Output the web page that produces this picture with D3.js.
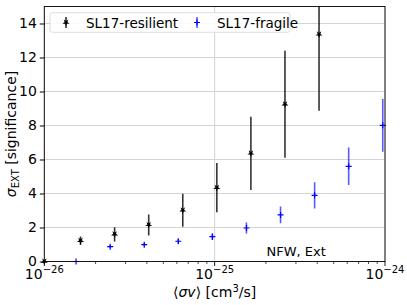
<!DOCTYPE html>
<html><head><meta charset="utf-8">
<script src="https://cdn.jsdelivr.net/npm/d3@7"></script>
<style>body{margin:0;background:#fff}svg{display:block}text{font-family:"DejaVu Sans",sans-serif}</style>
</head><body><svg id="c" width="407" height="305"></svg>
<script>
// data
const resX = [1.0e-26, 1.632e-26, 2.587e-26, 4.101e-26, 6.499e-26, 1.030e-25, 1.632e-25, 2.587e-25, 4.10e-25];
const resY = [0, 1.22, 1.6, 2.15, 3.01, 4.34, 6.36, 9.25, 13.36];
const resErr = [0.05, 0.25, 0.42, 0.62, 0.97, 1.45, 2.15, 3.14, 4.49];
const fraX = [1.537e-26, 2.437e-26, 3.862e-26, 6.120e-26, 9.70e-26, 1.537e-25, 2.437e-25, 3.862e-25, 6.120e-25, 9.70e-25];
const fraY = [0, 0.87, 0.99, 1.19, 1.46, 1.97, 2.74, 3.89, 5.6, 8.01];
const fraErr = [0.03, 0.08, 0.1, 0.13, 0.2, 0.33, 0.49, 0.77, 1.1, 1.55];
const yTicks = [0, 2, 4, 6, 8, 10, 12, 14];
const xTicks = [1e-26, 1e-25, 1e-24];
const xTickExp = ["\u221226", "\u221225", "\u221224"];
const seriesNames = ["SL17-resilient", "SL17-fragile"];

const svg = d3.select("#c");
const L = 44.3, R = 385, T = 6.5, B = 261.5;
const x = d3.scaleLog().domain([1e-26, 1e-24]).range([L, R]);
const y = d3.scaleLinear().domain([0, 15]).range([B, T]);

// grid
svg.append("g").selectAll("line").data(yTicks).join("line")
  .attr("x1", L).attr("x2", R).attr("y1", d => y(d)).attr("y2", d => y(d))
  .attr("stroke", "#d3d3d3").attr("stroke-width", 1);
svg.append("g").selectAll("line").data(xTicks).join("line")
  .attr("x1", d => x(d)).attr("x2", d => x(d)).attr("y1", T).attr("y2", B)
  .attr("stroke", "#d3d3d3").attr("stroke-width", 1);

const clip = svg.append("clipPath").attr("id", "cp").append("rect")
  .attr("x", L - 6).attr("y", T).attr("width", R - L + 12).attr("height", B - T + 6);
const plot = svg.append("g").attr("clip-path", "url(#cp)");

// error bars
plot.append("g").selectAll("line").data(fraX.map((d, i) => i)).join("line")
  .attr("x1", i => x(fraX[i])).attr("x2", i => x(fraX[i]))
  .attr("y1", i => y(fraY[i] - fraErr[i])).attr("y2", i => y(fraY[i] + fraErr[i]))
  .attr("stroke", "blue").attr("stroke-opacity", 0.65).attr("stroke-width", 1.6);
plot.append("g").selectAll("line").data(resX.map((d, i) => i)).join("line")
  .attr("x1", i => x(resX[i])).attr("x2", i => x(resX[i]))
  .attr("y1", i => y(resY[i] - resErr[i])).attr("y2", i => y(resY[i] + resErr[i]))
  .attr("stroke", "black").attr("stroke-opacity", 0.8).attr("stroke-width", 1.6);

// markers
const plus = (g, cx, cy, s) => g.append("path")
  .attr("d", `M${cx - s},${cy}H${cx + s}M${cx},${cy - s}V${cy + s}`)
  .attr("stroke", "blue").attr("stroke-width", 1.2).attr("fill", "none");
const star = d3.symbol().type(d3.symbolStar).size(16);
fraX.forEach((d, i) => plus(plot, x(d), y(fraY[i]), 3));
plot.append("g").selectAll("path").data(resX.map((d, i) => i)).join("path")
  .attr("d", star).attr("transform", i => `translate(${x(resX[i])},${y(resY[i])}) rotate(180)`)
  .attr("fill", "black");

// axes box
svg.append("rect").attr("x", L).attr("y", T).attr("width", R - L).attr("height", B - T)
  .attr("fill", "none").attr("stroke", "black").attr("stroke-width", 0.9);

// y axis
const yAx = svg.append("g").attr("transform", `translate(${L},0)`)
  .call(d3.axisLeft(y).tickValues(yTicks).tickSize(4.5).tickPadding(3).tickFormat(d3.format("d")));
yAx.select(".domain").remove();
yAx.selectAll("text").attr("font-size", 14).attr("fill", "black").attr("font-family", "DejaVu Sans")
  .attr("dy", "0.3em");

// x axis
const minors = [];
[-26, -25].forEach(e => { for (let k = 2; k <= 9; k++) minors.push(k * Math.pow(10, e)); });
const xAxG = svg.append("g").attr("transform", `translate(0,${B})`);
xAxG.selectAll("line.mj").data(xTicks).join("line").attr("class", "mj")
  .attr("x1", d => x(d)).attr("x2", d => x(d)).attr("y1", 0).attr("y2", 4.5).attr("stroke", "black").attr("stroke-width", 0.9);
xAxG.selectAll("line.mn").data(minors).join("line").attr("class", "mn")
  .attr("x1", d => x(d)).attr("x2", d => x(d)).attr("y1", 0).attr("y2", 2.5).attr("stroke", "black").attr("stroke-width", 0.7);
const xl = xAxG.selectAll("text").data(xTicks).join("text")
  .attr("x", d => x(d)).attr("y", 17.5).attr("text-anchor", "middle").attr("font-size", 14);
xl.append("tspan").text("10");
xl.append("tspan").attr("dy", -6).attr("font-size", 10).text((d, i) => xTickExp[i]);

// axis labels
const xlab = svg.append("text").attr("x", (L + R) / 2).attr("y", 297).attr("text-anchor", "middle").attr("font-size", 14);
xlab.append("tspan").text("\u27E8");
xlab.append("tspan").attr("font-style", "italic").text("\u03C3v");
xlab.append("tspan").text("\u27E9 [cm");
xlab.append("tspan").attr("dy", -5).attr("font-size", 10).text("3");
xlab.append("tspan").attr("dy", 5).text("/s]");

const ylab = svg.append("text").attr("transform", `translate(16,${(T + B) / 2}) rotate(-90)`)
  .attr("text-anchor", "middle").attr("font-size", 14);
ylab.append("tspan").attr("font-style", "italic").text("\u03C3");
ylab.append("tspan").attr("dy", 3).attr("font-size", 10).text("EXT");
ylab.append("tspan").attr("dy", -3).text(" [significance]");

// annotation
svg.append("text").attr("x", 266.5).attr("y", 256).attr("font-size", 13).text("NFW, Ext");

// legend
const lg = svg.append("g");
lg.append("rect").attr("x", 50).attr("y", 12.7).attr("width", 240).attr("height", 19.6).attr("rx", 2.5)
  .attr("fill", "white").attr("fill-opacity", 0.85).attr("stroke", "#d9d9d9").attr("stroke-width", 0.9);
lg.append("line").attr("x1", 66).attr("x2", 66).attr("y1", 17).attr("y2", 28)
  .attr("stroke", "black").attr("stroke-opacity", 0.8).attr("stroke-width", 1.6);
lg.append("path").attr("d", star).attr("transform", "translate(66,22.5) rotate(180)").attr("fill", "black");
lg.append("text").attr("x", 86).attr("y", 27.5).attr("font-size", 13.5).text(seriesNames[0]);
lg.append("line").attr("x1", 197).attr("x2", 197).attr("y1", 17).attr("y2", 28)
  .attr("stroke", "blue").attr("stroke-opacity", 0.65).attr("stroke-width", 1.6);
plus(lg, 197, 22.5, 3);
lg.append("text").attr("x", 217).attr("y", 27.5).attr("font-size", 13.5).text(seriesNames[1]);
</script></body></html>
